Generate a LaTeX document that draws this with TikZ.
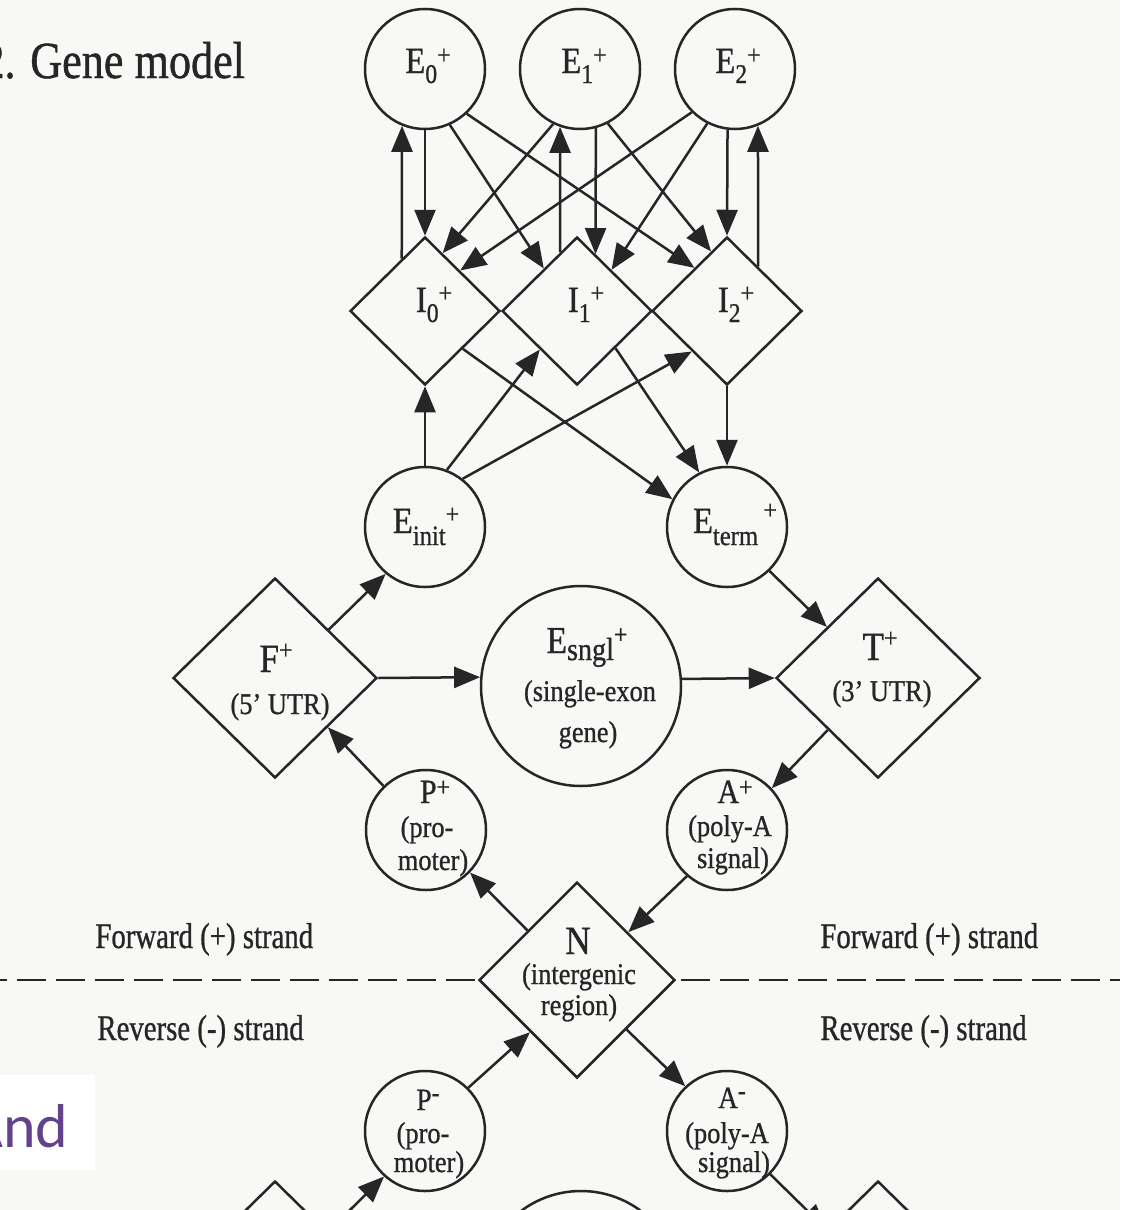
\documentclass[tikz,border=0pt]{standalone}
\usepackage{fontspec}
\setmainfont{Liberation Serif}[FakeBold=0.9]
\newfontfamily\slidefont{Carlito}
\usepackage{graphicx}
\usetikzlibrary{arrows.meta,shapes.geometric}

\definecolor{ink}{RGB}{38,38,38}
\definecolor{paper}{RGB}{248,248,246}
\definecolor{slidepurple}{RGB}{98,66,138}

% narrow set type, sub- and superscripts of the state labels
\newcommand\cnd[2][0.88]{\scalebox{#1}[1]{#2}}
\newcommand\lsub[2][5pt]{\raisebox{-#1}{\fontsize{13.5}{13.5}\selectfont #2}}
\newcommand\lsup[2][4.5pt]{\raisebox{#1}{\fontsize{13.5}{13.5}\selectfont #2}}

\begin{document}
\begin{tikzpicture}[x=0.5pt,y=-0.5pt,
  st/.style={draw=ink, line width=1.25pt, inner sep=0pt},
  ecirc/.style={st, circle, minimum size=60pt},
  bigc/.style={st, circle, minimum size=100pt},
  idia/.style={st, diamond, minimum width=75pt, minimum height=74pt},
  bdia/.style={st, diamond, minimum width=102pt, minimum height=100pt},
  ndia/.style={st, diamond, minimum width=98pt, minimum height=98pt},
  arr/.style={draw=ink, line width=1.25pt, -{Triangle[length=13pt,width=10.5pt]}},
  lab/.style={text=ink, inner sep=0pt, anchor=base, font=\fontsize{18.5}{18.5}\selectfont},
  small/.style={text=ink, inner sep=0pt, anchor=base, font=\fontsize{15}{15}\selectfont},
  strand/.style={text=ink, inner sep=0pt, anchor=base west, font=\fontsize{18}{18}\selectfont},
  dashline/.style={draw=ink, line width=1.25pt, dash pattern=on 14.5pt off 5pt}
]
\useasboundingbox (0,0) rectangle (1120,1210);
\clip (0,0) rectangle (1120,1210);
\fill[paper] (0,0) rectangle (1120,1210);

% ---- states ----
\node[ecirc] (E0) at (425,69) {};
\node[ecirc] (E1) at (580,69) {};
\node[ecirc] (E2) at (735,69) {};
\node[idia] (I0) at (425,311) {};
\node[idia] (I1) at (577,311) {};
\node[idia] (I2) at (727,311) {};
\node[ecirc] (Ei) at (425,527) {};
\node[ecirc] (Et) at (727,527) {};
\node[bdia] (F) at (275,678) {};
\node[bigc] (Es) at (581,686) {};
\node[bdia] (T) at (878,678) {};
\node[ecirc] (Pp) at (426,830) {};
\node[ecirc] (Ap) at (727,830) {};
\node[ndia] (N) at (577,980) {};
\node[ecirc] (Pm) at (425,1131) {};
\node[ecirc] (Am) at (727,1131) {};
\node[bdia] (Fm) at (275,1281) {};
\node[bigc] (Esm) at (581,1291) {};
\node[bdia] (Tm) at (878,1281) {};

% ---- state labels ----
\node[lab] (E0t) at (428,73) {\cnd{E\lsub{0}\lsup{+}}};
\node[lab] (E1t) at (584,73) {\cnd{E\lsub{1}\lsup{+}}};
\node[lab] (E2t) at (738,73) {\cnd{E\lsub{2}\lsup{+}}};
\node[lab] (I0t) at (434,312) {\cnd{I\lsub{0}\lsup[5pt]{+}}};
\node[lab] (I1t) at (586,312) {\cnd{I\lsub{1}\lsup[5pt]{+}}};
\node[lab] (I2t) at (736,312) {\cnd{I\lsub{2}\lsup[5pt]{+}}};
\node[lab] (Eit) at (426,533) {\cnd{E\lsub[6pt]{\fontsize{14}{14}\selectfont init}\lsup[5pt]{+}}};
\node[lab] (Ett) at (735,533) {\cnd{E\lsub[6pt]{\fontsize{14}{14}\selectfont term}\,\lsup[7pt]{+}}};
\node[lab, font=\fontsize{19}{19}\selectfont] (Est1) at (587,653) {\cnd{E\lsub[3.5pt]{\fontsize{16}{16}\selectfont sngl}\lsup[4.75pt]{+}}};
\node[small] (Est2) at (590,701) {\cnd{(single-exon}};
\node[small] (Est3) at (588,742) {\cnd{gene)}};
\node[lab, font=\fontsize{20}{20}\selectfont] (Ft1) at (276,672) {\cnd{F\lsup[6.5pt]{+}}};
\node[small] (Ft2) at (280,714) {\cnd{(5' UTR)}};
\node[lab, font=\fontsize{20}{20}\selectfont] (Tt1) at (880,660) {\cnd{T\lsup[6.5pt]{+}}};
\node[small] (Tt2) at (882,701) {\cnd{(3' UTR)}};
\node[lab, font=\fontsize{17}{17}\selectfont] (Ppt1) at (435,803) {\cnd{P\lsup[3.5pt]{+}}};
\node[small] (Ppt2) at (427,837) {\cnd{(pro-}};
\node[small] (Ppt3) at (433,870) {\cnd{moter)}};
\node[lab, font=\fontsize{17}{17}\selectfont] (Apt1) at (735,803) {\cnd{A\lsup[3.5pt]{+}}};
\node[small] (Apt2) at (730,836) {\cnd{(poly-A}};
\node[small] (Apt3) at (733,868) {\cnd{signal)}};
\node[lab, font=\fontsize{20}{20}\selectfont] (Nt1) at (578,954) {\cnd{N}};
\node[small] (Nt2) at (579,984) {\cnd{(intergenic}};
\node[small] (Nt3) at (579,1015) {\cnd{region)}};
\node[lab, font=\fontsize{15.5}{15.5}\selectfont] (Pmt1) at (428,1110) {\cnd{P\lsup[4.25pt]{-}}};
\node[small] (Pmt2) at (423,1143) {\cnd{(pro-}};
\node[small] (Pmt3) at (429,1172) {\cnd{moter)}};
\node[lab, font=\fontsize{15.5}{15.5}\selectfont] (Amt1) at (732,1108) {\cnd{A\lsup[4.25pt]{-}}};
\node[small] (Amt2) at (727,1143) {\cnd{(poly-A}};
\node[small] (Amt3) at (734,1172) {\cnd{signal)}};

% ---- transitions: exons and introns ----
\draw[arr] (I0.114.2) -- (E0.-112.55);
\draw[arr] (E0.south) -- (I0.north);
\draw[arr] (E0.-66.9) -- (I1.128.3);
\draw[arr] (E0.-47.7) -- (I2.127.7);
\draw[arr] (E1.-116.57) -- (I0.73.6);
\draw[arr] (E1.-75.52) -- (I1.72.24);
\draw[arr] (I1.106.57) -- (E1.-109.47);
\draw[arr] (E1.-63.43) -- (I2.105.8);
\draw[arr] (E2.-135.64) -- (I0.49.94);
\draw[arr] (E2.-117) -- (I1.50.07);
\draw[arr] (E2.-97.66) -- (I2.north);
\draw[arr] (I2.55.96) -- (E2.-68.49);

\draw[arr] (Ei.north) -- (I0.south);
\draw[arr] (Ei.69.55) -- (I1.-134.3);
\draw[arr] (Ei.52.2) -- (I2.-131.4);
\draw[arr] (I0.-45.7) -- (Et.153.05);
\draw[arr] (I1.-44.3) -- (Et.117.76);
\draw[arr] (I2.south) -- (Et.north);

% ---- transitions: gene ends and intergenic region ----
\draw[arr] (F.42.8) -- (Ei.-130.7);
\draw[arr] (F.east) -- (Es.175.41);
\draw[arr] (Es.4.59) -- (T.west);
\draw[arr] (Et.-46.3) -- (T.135);
\draw[arr] (T.-134.4) -- (Ap.43.8);
\draw[arr] (Pp.134.4) -- (F.-43.9);
\draw[arr] (N.135) -- (Pp.-44.4);
\draw[arr] (Ap.-131.6) -- (N.43.3);
\draw[arr] (Pm.45) -- (N.-132.4);
\draw[arr] (N.-45) -- (Am.133.2);
\draw[arr] (Fm.43.3) -- (Pm.-132.5);
\draw[arr] (Am.-45.6) -- (Tm.135);

% ---- strand divider ----
\coordinate (dL) at (0,980);
\coordinate (dR) at (1120,980);
\draw[dashline, dash phase=11pt] (dL) -- (N.west);
\draw[dashline, dash phase=17pt] (N.east) -- (dR);

\node[strand] (fwdL) at (95,948) {\cnd[0.8]{Forward (+) strand}};
\node[strand] (fwdR) at (820,948) {\cnd[0.8]{Forward (+) strand}};
\node[strand] (revL) at (97,1040) {\cnd[0.8]{Reverse (-) strand}};
\node[strand] (revR) at (820,1040) {\cnd[0.8]{Reverse (-) strand}};

% ---- heading ----
\node[text=ink, inner sep=0pt, anchor=base west, font=\fontsize{26}{26}\selectfont] (title) at (-18,78) {\cnd[0.85]{2. Gene model}};

% ---- slide text box ----
\node[fill=white, inner sep=0pt, minimum width=47.5pt, minimum height=47.5pt, anchor=north west] (slidebox) at (0,1075) {};
\node[text=slidepurple, inner sep=0pt, anchor=base west, font=\slidefont\fontsize{31}{31}\selectfont] (slidetxt) at (-33,1147) {And};
\end{tikzpicture}
\end{document}
